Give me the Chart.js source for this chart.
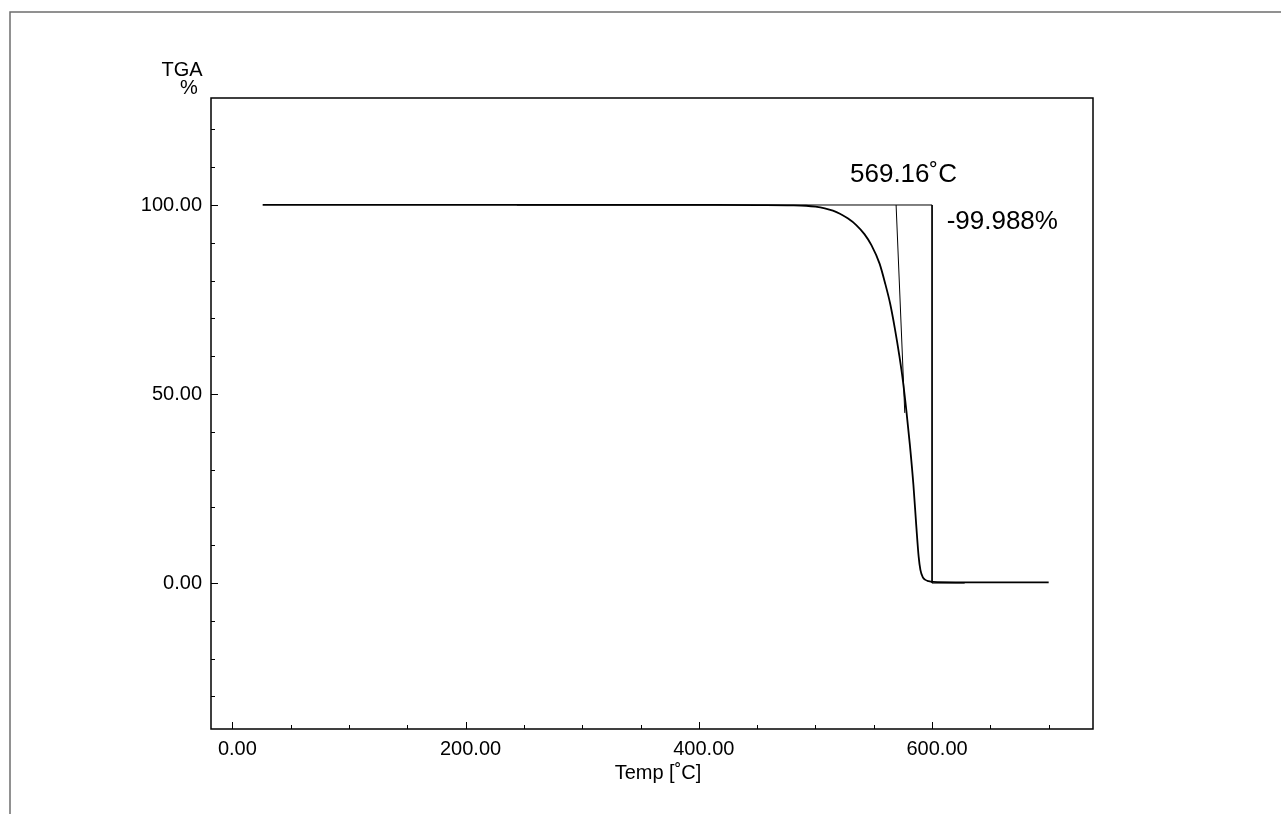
<!DOCTYPE html>
<html>
<head>
<meta charset="utf-8">
<style>
  html, body { margin: 0; padding: 0; background: #fff; }
  #wrap { position: relative; width: 1281px; height: 814px; }
</style>
<script src="https://cdn.jsdelivr.net/npm/chart.js@4.4.1/dist/chart.umd.min.js"></script>
</head>
<body>
<div id="wrap"><canvas id="c" width="1281" height="814"></canvas></div>
<script>
// ---- data ----
const tempC = [26, 100, 200, 300, 400, 450, 480, 492, 500, 508, 515, 521, 528, 535, 542, 548, 555, 560, 564, 568, 572, 575, 578, 581, 584, 586.5, 588.5, 590, 592, 594, 597, 601, 620, 650, 700];
const massPct = [100.05, 100.05, 100.05, 100.05, 100.02, 99.98, 99.92, 99.8, 99.55, 99.1, 98.5, 97.7, 96.4, 94.7, 92.3, 89.4, 84.5, 79, 74, 67.5, 60, 53.5, 45.5, 36.5, 26, 15, 7, 3.5, 1.6, 0.9, 0.5, 0.3, 0.2, 0.2, 0.2];
const tangentT = [569.16, 576.6];
const tangentM = [100, 45];
const stepT = [244, 600, 600, 628];
const stepM = [100, 100, 0, 0];
const xTickValues = [0, 200, 400, 600];
const yTickValues = [0, 50, 100];
const xMinorStep = 50;
const yMinorStep = 10;
const onsetLabel = '569.16˚C';
const lossLabel = '-99.988%';
const xTitle = 'Temp [˚C]';
const yTitle1 = 'TGA';
const yTitle2 = '%';

const toPts = (xs, ys) => xs.map((x, i) => ({ x: x, y: ys[i] }));
const FONT = '"Liberation Sans", Arial, sans-serif';

const decor = {
  id: 'decor',
  beforeDraw(chart) {
    const ctx = chart.ctx;
    ctx.save();
    ctx.strokeStyle = '#6e6e6e';
    ctx.lineWidth = 1.5;
    ctx.beginPath();
    ctx.moveTo(10, 814);
    ctx.lineTo(10, 12);
    ctx.lineTo(1281, 12);
    ctx.stroke();
    ctx.restore();
  },
  afterDraw(chart) {
    const ctx = chart.ctx;
    const a = chart.chartArea;
    const xs = chart.scales.x, ys = chart.scales.y;
    ctx.save();
    ctx.strokeStyle = '#000';
    ctx.lineWidth = 1.5;
    ctx.strokeRect(a.left, a.top, a.right - a.left, a.bottom - a.top);
    ctx.lineWidth = 1;
    ctx.beginPath();
    for (let v = 0; v <= 700; v += xMinorStep) {
      const px = Math.round(xs.getPixelForValue(v)) + 0.5;
      const len = (v % 200 === 0) ? 7 : 4;
      ctx.moveTo(px, a.bottom);
      ctx.lineTo(px, a.bottom - len);
    }
    for (let v = -30; v <= 120; v += yMinorStep) {
      const py = Math.round(ys.getPixelForValue(v)) + 0.5;
      const len = (v % 50 === 0) ? 7 : 4;
      ctx.moveTo(a.left, py);
      ctx.lineTo(a.left + len, py);
    }
    ctx.stroke();

    ctx.fillStyle = '#000';
    ctx.textAlign = 'center';
    ctx.textBaseline = 'middle';
    ctx.font = '20px ' + FONT;
    ctx.fillText(xTitle, (a.left + a.right) / 2 + 6, 773);
    ctx.fillText(yTitle1, 182, 70);
    ctx.fillText(yTitle2, 189, 88);

    ctx.font = '26px ' + FONT;
    ctx.fillText(onsetLabel, xs.getPixelForValue(575.5), 175);
    ctx.textAlign = 'left';
    ctx.fillText(lossLabel, xs.getPixelForValue(612.5), ys.getPixelForValue(95.5));
    ctx.restore();
  }
};

new Chart(document.getElementById('c'), {
  type: 'scatter',
  data: {
    datasets: [
      { data: toPts(stepT, stepM), showLine: true, borderColor: '#000', borderWidth: 1, pointRadius: 0, tension: 0 },
      { data: toPts(tangentT, tangentM), showLine: true, borderColor: '#000', borderWidth: 1, pointRadius: 0, tension: 0 },
      { data: toPts(tempC, massPct), showLine: true, borderColor: '#000', borderWidth: 1.8, pointRadius: 0, cubicInterpolationMode: 'monotone' }
    ]
  },
  options: {
    responsive: false,
    animation: false,
    events: [],
    layout: { padding: { top: 98, right: 188, left: 0, bottom: 0 } },
    plugins: { legend: { display: false }, tooltip: { enabled: false }, title: { display: false } },
    scales: {
      x: {
        type: 'linear', min: -18.3, max: 738,
        grid: { display: false, drawTicks: false },
        border: { display: false },
        afterFit(s) { s.height = 85; },
        afterBuildTicks(s) { s.ticks = xTickValues.map(v => ({ value: v })); },
        ticks: {
          padding: 8, labelOffset: 5, color: '#000', maxRotation: 0, autoSkip: false,
          font: { family: FONT, size: 20 },
          callback: v => Number(v).toFixed(2)
        }
      },
      y: {
        type: 'linear', min: -38.6, max: 128.3,
        grid: { display: false, drawTicks: false },
        border: { display: false },
        afterFit(s) { s.width = 211; },
        afterBuildTicks(s) { s.ticks = yTickValues.map(v => ({ value: v })); },
        ticks: {
          padding: 9, color: '#000', autoSkip: false,
          font: { family: FONT, size: 20 },
          callback: v => Number(v).toFixed(2)
        }
      }
    }
  },
  plugins: [decor]
});
</script>
</body>
</html>
